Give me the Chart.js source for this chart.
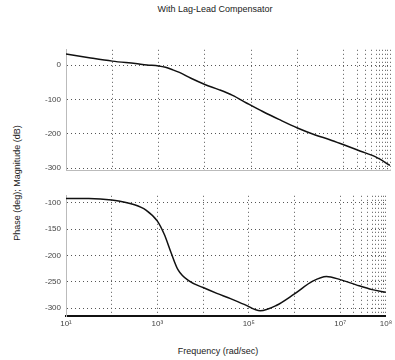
<!DOCTYPE html>
<html>
<head>
<meta charset="utf-8">
<script src="https://cdn.jsdelivr.net/npm/chart.js@4"></script>
<style>
  html,body{margin:0;padding:0;background:#fff;}
  body{width:395px;height:360px;position:relative;overflow:hidden;font-family:"Liberation Sans",Arial,sans-serif;}
  .txt{position:absolute;color:#222;font-size:9px;white-space:nowrap;}
  #title{left:0;width:430px;top:4px;text-align:center;}
  #xtitle{left:0;width:436px;top:346px;text-align:center;}
  #ytitle{left:17px;top:183px;transform:translate(-50%,-50%) rotate(-90deg);}
  #c1{position:absolute;left:0;top:40px;}
  #c2{position:absolute;left:0;top:186px;}
</style>
</head>
<body>
<div class="txt" id="title">With Lag-Lead Compensator</div>
<div class="txt" id="ytitle">Phase (deg); Magnitude (dB)</div>
<div class="txt" id="xtitle">Frequency (rad/sec)</div>
<canvas id="c1" width="395" height="140"></canvas>
<canvas id="c2" width="395" height="174"></canvas>
<script>
// ---- data ----
const frequencies = [10, 31.6, 100, 316, 562, 1000, 1413, 1995, 2818, 5012,
  1e4, 2e4, 3.98e4, 7.94e4, 1.78e5, 3.98e5, 1e6, 2.51e6, 5.01e6, 1e7, 2.24e7, 5.01e7, 1e8];
const magnitudeDb = [33, 22, 12, 5, 1, -2, -6, -13, -21, -38,
  -56, -71, -88, -110, -135, -158, -183, -204, -217, -232, -250, -268, -292];
const phaseDeg = [-92, -92, -95, -104, -114, -135, -160, -195, -227, -249,
  -261, -272, -282, -293, -305, -295, -273, -249, -240, -246, -256, -265, -270];

const xTickValues = [10, 100, 1000, 1e4, 1e5, 1e6, 1e7, 2e7, 3e7, 4e7, 5e7, 6e7, 7e7, 8e7, 9e7, 1e8];
const xTickLabels = ['10\u00B9', '', '10\u00B3', '', '10\u2075', '', '10\u2077', '', '', '', '', '', '', '', '', '10\u2078'];
const magTicks = [0, -100, -200, -300];
const phaseTicks = [-100, -150, -200, -250, -300];

// ---- chart setup ----
const gridOpts = {color: '#555', lineWidth: 1, drawTicks: false};
function xScale(showLabels) {
  return {
    type: 'logarithmic', min: 10, max: 1e8,
    afterBuildTicks: s => { s.ticks = xTickValues.map(v => ({value: v})); },
    afterFit: s => { s.height = showLabels ? 14 : 0; },
    grid: Object.assign({}, gridOpts),
    border: showLabels ? {display: true, color: '#111', width: 2, dash: [1, 3]}
                       : {display: true, color: '#bbb', width: 1, dash: [1, 3]},
    ticks: {
      display: showLabels, autoSkip: false, maxRotation: 0, padding: 3,
      color: '#444', font: {size: 8, family: 'Liberation Sans'},
      callback: (v, i) => xTickLabels[i]
    }
  };
}
function yScale(min, max, ticks) {
  return {
    type: 'linear', min: min, max: max,
    afterBuildTicks: s => { s.ticks = ticks.map(v => ({value: v})); },
    afterFit: s => { s.width = 66; },
    grid: Object.assign({}, gridOpts),
    border: {display: true, color: '#bbb', width: 1, dash: [1, 3]},
    ticks: {padding: 5, color: '#444', font: {size: 8, family: 'Liberation Sans'}}
  };
}
function makeChart(id, values, yMin, yMax, yTicks, showX, padBottom) {
  return new Chart(document.getElementById(id), {
    type: 'line',
    data: {datasets: [{
      data: frequencies.map((f, i) => ({x: f, y: values[i]})),
      borderColor: '#111', borderWidth: 1.5, pointRadius: 0,
      cubicInterpolationMode: 'monotone', fill: false
    }]},
    options: {
      responsive: false, animation: false, devicePixelRatio: 1,
      layout: {padding: {left: 0, right: 5, top: 8, bottom: padBottom}},
      plugins: {legend: {display: false}, tooltip: {enabled: false}, title: {display: false}},
      scales: {x: xScale(showX), y: yScale(yMin, yMax, yTicks)}
    }
  });
}
makeChart('c1', magnitudeDb, -306, 45, magTicks, false, 8);
makeChart('c2', phaseDeg, -315, -87, phaseTicks, true, 30);
</script>
</body>
</html>
